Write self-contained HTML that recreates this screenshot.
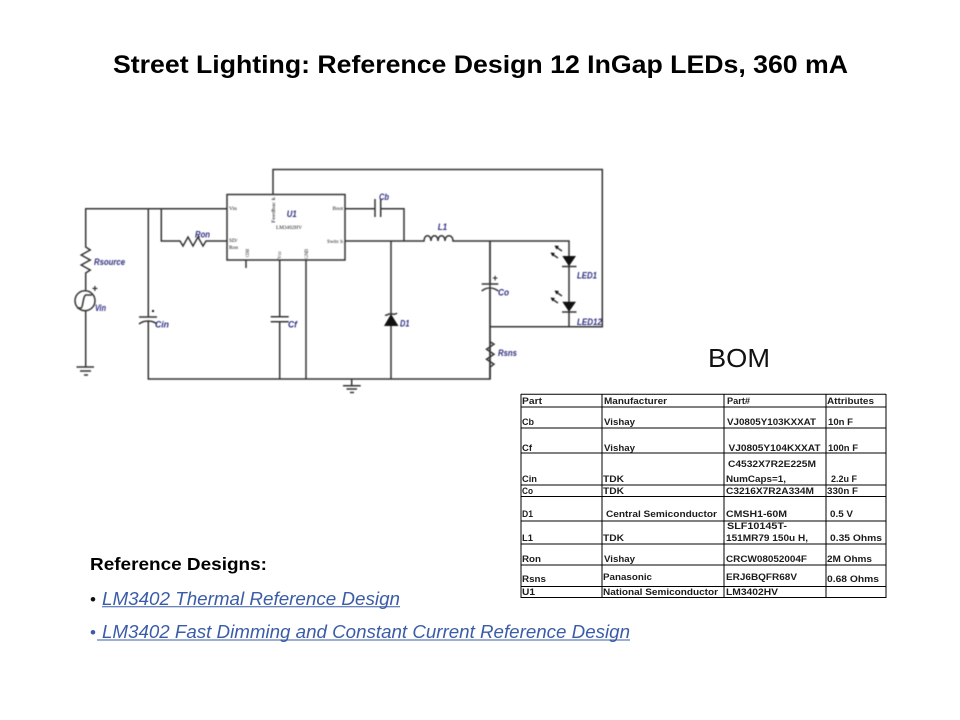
<!DOCTYPE html>
<html><head><meta charset="utf-8"><title>Street Lighting</title>
<style>
html,body{margin:0;padding:0;background:#fff;width:960px;height:720px;overflow:hidden}
svg{display:block;position:absolute;left:0;top:0}
text{font-family:"Liberation Sans",Arial,sans-serif}
.w{fill:none;stroke:#333;stroke-width:1.5}
.k{fill:#111;stroke:none}
.l{font-size:9.5px;font-style:italic;font-weight:bold;fill:#2d2d80}
.i{font-family:"Liberation Serif",serif;font-size:5.5px;fill:#111}
.t{font-size:9.4px;font-weight:bold;fill:#1c1c1c}
.a{font-size:18.5px;font-style:italic;fill:#3a5ca8}
</style></head><body>
<svg width="960" height="720" viewBox="0 0 960 720" xmlns="http://www.w3.org/2000/svg">
<text x="113" y="73" font-size="25" font-weight="bold" fill="#000" textLength="735" lengthAdjust="spacingAndGlyphs">Street Lighting: Reference Design 12 InGap LEDs, 360 mA</text>
<text x="708" y="367" font-size="26" fill="#111" textLength="62" lengthAdjust="spacingAndGlyphs">BOM</text>

<g style="filter:blur(0.45px)">
<rect class="w" x="227" y="194.500" width="118" height="65.500"/>
<path class="w" d="M273 194.500V169.500H602.300V326.700H490"/>
<path class="w" d="M227 208.700H85.700V247l4.500 3-9 5 9 5-9 5 9 5-4.500 3V290"/>
<circle class="w" cx="85" cy="300.700" r="10"/>
<path class="w" d="M77 308h4c2 0 2-13 5-13h6"/>
<path class="w" d="M85.700 311V367"/>
<path class="w" d="M76.500 367H94M80 371H91M84 375H88"/>
<text x="92" y="292" font-size="10" font-weight="bold" fill="#222">+</text>
<path class="w" d="M148.300 208.700V317M148.300 321V379H490V241M139 317H157M139 324c5-4 13-4 18 0"/>
<rect class="k" x="152" y="310" width="2" height="2"/>
<path class="w" d="M161.300 208.700V241H180l3 5 5-9 5 9 5-9 5 9 3-5H227"/>
<path class="w" d="M246 260V268"/>
<path class="w" d="M279.700 260V316.700M279.700 321.700V379M270.700 316.700H288.700M270.700 321.700H288.700"/>
<path class="w" d="M306 260V379"/>
<path class="w" d="M345 208.700H375M380.700 208.700H404V241M375 199V217M380.700 199V217"/>
<path class="w" d="M345 241H418"/>
<path class="w" d="M418 241h6c0-7 7-7 7 0c0-7 7-7 7 0c0-7 7-7 7 0c0-7 8-7 8 0h4h12H569V327"/>
<path class="w" d="M391 241V379"/>
<path class="k" d="M391 314L398.500 326H384Z"/>
<path class="w" d="M385 315c2 1 3-1 4-1H393c1 0 2 1 4-1"/>
<path class="w" d="M490 241V284M490 289V379"/>
<path class="w" d="M481.700 284H498.300M481.700 291c5-4 11-4 16.600 0"/>
<text x="492.500" y="281" font-size="9" font-weight="bold" fill="#222">+</text>
<path class="w" d="M490 341.700l4 2.500-7.500 5 7.500 5-7.500 5 7.500 5-4 3V379"/>
<path class="k" d="M562.300 256H576L569 266.300ZM562.300 301.700H576L569 311.700Z"/>
<path class="w" d="M562 266.500H576.500M562 312H576.500"/>
<path class="w" d="M562 251L556 247M558 258L552 254M562 296L556 292M558 303L552 299"/>
<path class="k" d="M554.500 245.500l4.500 .5-2.500 3.500ZM550.500 252.500l4.500 .5-2.500 3.500ZM554.500 290.500l4.500 .5-2.500 3.500ZM550.500 297.500l4.500 .5-2.500 3.500Z"/>
<path class="w" d="M351.700 379V385.700M343 385.700H360.700M346.500 389H357M350 392.500H354"/>

<text class="l" x="94" y="265" textLength="31" lengthAdjust="spacingAndGlyphs">Rsource</text>
<text class="l" x="195" y="237.700" textLength="15" lengthAdjust="spacingAndGlyphs">Ron</text>
<text class="l" x="95" y="311" textLength="11" lengthAdjust="spacingAndGlyphs">Vin</text>
<text class="l" x="155" y="327.700" textLength="14" lengthAdjust="spacingAndGlyphs">Cin</text>
<text class="l" x="288" y="327.700" textLength="9" lengthAdjust="spacingAndGlyphs">Cf</text>
<text class="l" x="286.700" y="217" textLength="10" lengthAdjust="spacingAndGlyphs">U1</text>
<text class="l" x="379" y="200" textLength="10" lengthAdjust="spacingAndGlyphs">Cb</text>
<text class="l" x="437.700" y="230" textLength="9.500" lengthAdjust="spacingAndGlyphs">L1</text>
<text class="l" x="498" y="295.700" textLength="11" lengthAdjust="spacingAndGlyphs">Co</text>
<text class="l" x="400" y="326.700" textLength="9.500" lengthAdjust="spacingAndGlyphs">D1</text>
<text class="l" x="577" y="278.700" textLength="20" lengthAdjust="spacingAndGlyphs">LED1</text>
<text class="l" x="577" y="325" textLength="25" lengthAdjust="spacingAndGlyphs">LED12</text>
<text class="l" x="498" y="356" textLength="19" lengthAdjust="spacingAndGlyphs">Rsns</text>

<text class="i" x="229" y="210">Vin</text>
<text class="i" x="229" y="242">SD/</text>
<text class="i" x="229" y="249">Ron</text>
<text class="i" x="332.500" y="210">Boot</text>
<text class="i" x="327" y="243" textLength="16" lengthAdjust="spacingAndGlyphs">Switc h</text>
<text class="i" x="276" y="229" textLength="26" lengthAdjust="spacingAndGlyphs">LM3402HV</text>
<text class="i" transform="translate(275,223) rotate(-90)" textLength="26" lengthAdjust="spacingAndGlyphs">Feedbac k</text>
<text class="i" transform="translate(249,257) rotate(-90)" textLength="8" lengthAdjust="spacingAndGlyphs">COM</text>
<text class="i" transform="translate(281,259) rotate(-90)" textLength="8" lengthAdjust="spacingAndGlyphs">Vcc</text>
<text class="i" transform="translate(308,259) rotate(-90)" textLength="10" lengthAdjust="spacingAndGlyphs">GND</text>
</g>

<g style="filter:blur(0.2px)">
<path d="M521 394.300H886M521 407H886M521 428H886M521 453H886M521 485H886M521 496.500H886M521 521H886M521 544H886M521 565H886M521 586.500H886M521 597.500H886M521 394V598M602 394V598M724 394V598M826 394V598M886 394V598" stroke="#000" stroke-width="1" fill="none"/>
<g transform="translate(0,-0.8)">
<text class="t" x="522" y="405" textLength="20" lengthAdjust="spacingAndGlyphs">Part</text>
<text class="t" x="604" y="405" textLength="63" lengthAdjust="spacingAndGlyphs">Manufacturer</text>
<text class="t" x="727" y="405" textLength="23" lengthAdjust="spacingAndGlyphs">Part#</text>
<text class="t" x="827" y="405" textLength="47" lengthAdjust="spacingAndGlyphs">Attributes</text>

<text class="t" x="522" y="426" textLength="12" lengthAdjust="spacingAndGlyphs">Cb</text>
<text class="t" x="604" y="426" textLength="31" lengthAdjust="spacingAndGlyphs">Vishay</text>
<text class="t" x="727" y="426" textLength="89" lengthAdjust="spacingAndGlyphs">VJ0805Y103KXXAT</text>
<text class="t" x="828" y="426" textLength="25" lengthAdjust="spacingAndGlyphs">10n F</text>

<text class="t" x="522" y="452" textLength="10" lengthAdjust="spacingAndGlyphs">Cf</text>
<text class="t" x="604" y="452" textLength="31" lengthAdjust="spacingAndGlyphs">Vishay</text>
<text class="t" x="728.500" y="452" textLength="92" lengthAdjust="spacingAndGlyphs">VJ0805Y104KXXAT</text>
<text class="t" x="828" y="452" textLength="30" lengthAdjust="spacingAndGlyphs">100n F</text>

<text class="t" x="728" y="468" textLength="88" lengthAdjust="spacingAndGlyphs">C4532X7R2E225M</text>
<text class="t" x="522" y="483" textLength="15" lengthAdjust="spacingAndGlyphs">Cin</text>
<text class="t" x="603" y="483" textLength="21" lengthAdjust="spacingAndGlyphs">TDK</text>
<text class="t" x="726" y="483" textLength="60" lengthAdjust="spacingAndGlyphs">NumCaps=1,</text>
<text class="t" x="831" y="483" textLength="26" lengthAdjust="spacingAndGlyphs">2.2u F</text>

<text class="t" x="522" y="494.600" textLength="11" lengthAdjust="spacingAndGlyphs">Co</text>
<text class="t" x="603" y="494.600" textLength="21" lengthAdjust="spacingAndGlyphs">TDK</text>
<text class="t" x="726" y="494.600" textLength="88" lengthAdjust="spacingAndGlyphs">C3216X7R2A334M</text>
<text class="t" x="827" y="494.600" textLength="31" lengthAdjust="spacingAndGlyphs">330n F</text>

<text class="t" x="522" y="518" textLength="11" lengthAdjust="spacingAndGlyphs">D1</text>
<text class="t" x="606" y="518" textLength="111" lengthAdjust="spacingAndGlyphs">Central Semiconductor</text>
<text class="t" x="726" y="518" textLength="61" lengthAdjust="spacingAndGlyphs">CMSH1-60M</text>
<text class="t" x="830" y="518" textLength="23" lengthAdjust="spacingAndGlyphs">0.5 V</text>

<text class="t" x="727" y="530" textLength="60" lengthAdjust="spacingAndGlyphs">SLF10145T-</text>
<text class="t" x="522" y="542" textLength="11" lengthAdjust="spacingAndGlyphs">L1</text>
<text class="t" x="603" y="542" textLength="21" lengthAdjust="spacingAndGlyphs">TDK</text>
<text class="t" x="726" y="542" textLength="82" lengthAdjust="spacingAndGlyphs">151MR79 150u H,</text>
<text class="t" x="830" y="542" textLength="52" lengthAdjust="spacingAndGlyphs">0.35 Ohms</text>

<text class="t" x="522" y="563" textLength="19" lengthAdjust="spacingAndGlyphs">Ron</text>
<text class="t" x="604" y="563" textLength="31" lengthAdjust="spacingAndGlyphs">Vishay</text>
<text class="t" x="726" y="563" textLength="81" lengthAdjust="spacingAndGlyphs">CRCW08052004F</text>
<text class="t" x="827" y="563" textLength="45" lengthAdjust="spacingAndGlyphs">2M Ohms</text>

<text class="t" x="522" y="583" textLength="24" lengthAdjust="spacingAndGlyphs">Rsns</text>
<text class="t" x="603" y="581" textLength="49" lengthAdjust="spacingAndGlyphs">Panasonic</text>
<text class="t" x="726" y="581" textLength="71" lengthAdjust="spacingAndGlyphs">ERJ6BQFR68V</text>
<text class="t" x="827" y="583" textLength="52" lengthAdjust="spacingAndGlyphs">0.68 Ohms</text>

<text class="t" x="522" y="596" textLength="13" lengthAdjust="spacingAndGlyphs">U1</text>
<text class="t" x="603" y="596" textLength="115" lengthAdjust="spacingAndGlyphs">National Semiconductor</text>
<text class="t" x="726" y="596" textLength="52" lengthAdjust="spacingAndGlyphs">LM3402HV</text>
</g>
</g>

<text x="90" y="570" font-size="17.500" font-weight="bold" fill="#000" textLength="177" lengthAdjust="spacingAndGlyphs">Reference Designs:</text>
<text x="90" y="605" font-size="17" fill="#111">•</text>
<text class="a" x="102" y="605" textLength="298" lengthAdjust="spacingAndGlyphs">LM3402 Thermal Reference Design</text>
<path d="M102 606.800H400" stroke="#3a5ca8" stroke-width="1"/>
<text x="90" y="638" font-size="17" fill="#3a5ca8">•</text>
<text class="a" x="102" y="638" textLength="528" lengthAdjust="spacingAndGlyphs">LM3402 Fast Dimming and Constant Current Reference Design</text>
<path d="M97 640H630" stroke="#3a5ca8" stroke-width="1"/>
</svg>
</body></html>
